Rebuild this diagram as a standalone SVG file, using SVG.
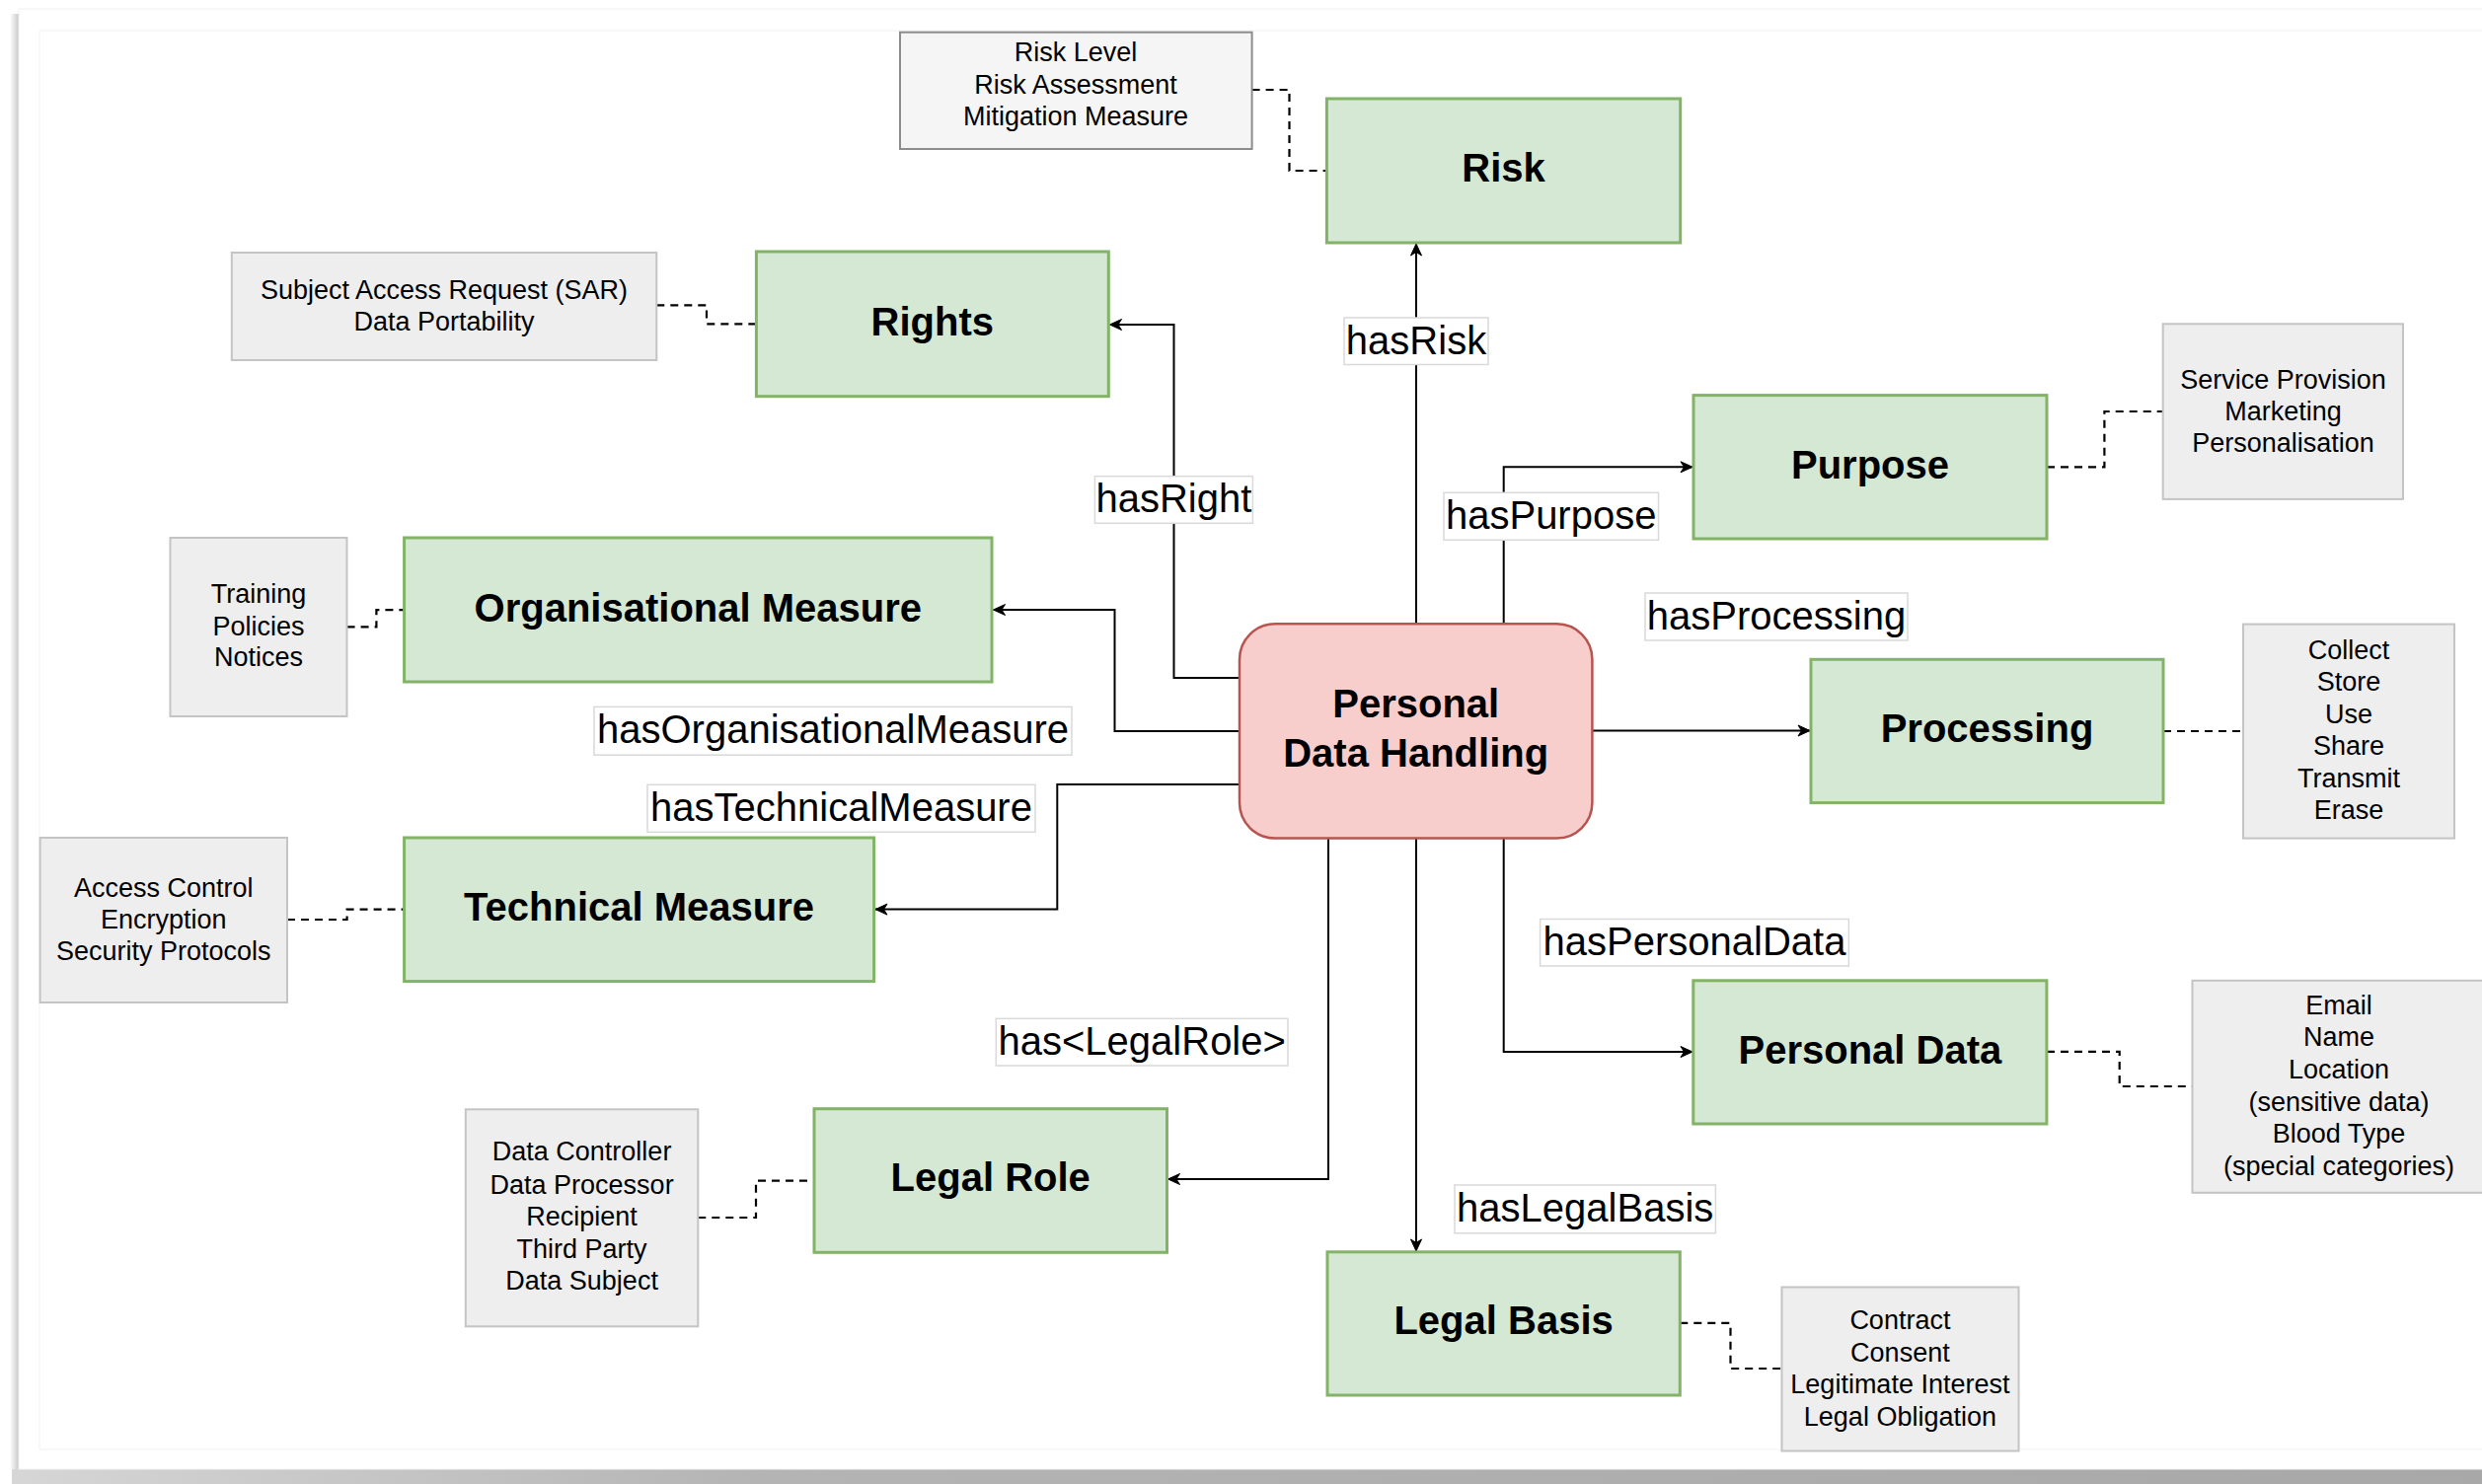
<svg xmlns="http://www.w3.org/2000/svg" width="2515" height="1504" viewBox="0 0 2515 1504">
<defs>
<style>
.node{fill:#d5e8d4;stroke:#82b366;stroke-width:3}
.core{fill:#f8cecc;stroke:#b85450;stroke-width:2.5}
.info{fill:#eeeeee;stroke:#c4c4c4;stroke-width:2}
.info2{fill:#f5f5f5;stroke:#8c8c8c;stroke-width:2}
.lbl{fill:#ffffff;stroke:#d9d9d9;stroke-width:1.5}
.nt{font-family:"Liberation Sans",Arial,Helvetica,sans-serif;font-size:40px;font-weight:bold;fill:#000;text-anchor:middle}
.it{font-family:"Liberation Sans",Arial,Helvetica,sans-serif;font-size:27px;fill:#000;text-anchor:middle}
.lt{font-family:"Liberation Sans",Arial,Helvetica,sans-serif;font-size:40px;fill:#000;text-anchor:middle}
.edge{fill:none;stroke:#000;stroke-width:2;marker-end:url(#arr)}
.dash{fill:none;stroke:#000;stroke-width:2.2;stroke-dasharray:8 6}
</style>
<marker id="arr" markerUnits="userSpaceOnUse" markerWidth="30" markerHeight="30" refX="0" refY="0" orient="auto" viewBox="-15 -15 30 30" overflow="visible">
<path d="M0,0 L-12,-5.5 L-8.5,0 L-12,5.5 Z" fill="#000" stroke="#000" stroke-width="1"/>
</marker>
<linearGradient id="bshadow" x1="0" y1="0" x2="1" y2="0">
<stop offset="0" stop-color="#d6d6d6"/>
<stop offset="0.3" stop-color="#b4b4b4"/>
<stop offset="1" stop-color="#a8a8a8"/>
</linearGradient>
<linearGradient id="lshadow" x1="0" y1="0" x2="1" y2="0">
<stop offset="0" stop-color="#ffffff"/>
<stop offset="1" stop-color="#c8c8c8"/>
</linearGradient>
</defs>

<g id="frame">
<rect x="0" y="0" width="2515" height="1504" fill="#ffffff"/>
<rect x="10" y="14" width="9" height="1476" fill="url(#lshadow)"/>
<rect x="12" y="1489" width="2503" height="15" fill="url(#bshadow)"/>
<rect x="19" y="9" width="2500" height="1480" fill="#ffffff" stroke="#f2f2f2" stroke-width="1"/>
<rect x="40" y="31" width="2490" height="1438" fill="none" stroke="#f4f4f4" stroke-width="1.2"/>
</g>

<g id="connectors">
<path class="edge" d="M1435,632 L1435,247"/>
<path class="edge" d="M1523.7,632 L1523.7,473.3 L1715,473.3"/>
<path class="edge" d="M1256,687 L1189.5,687 L1189.5,329 L1124.5,329"/>
<path class="edge" d="M1256,741 L1129.5,741 L1129.5,618 L1006.5,618"/>
<path class="edge" d="M1256,795 L1071.3,795 L1071.3,921.6 L887,921.6"/>
<path class="edge" d="M1613,740.5 L1834,740.5"/>
<path class="edge" d="M1523.7,849.6 L1523.7,1066 L1715,1066"/>
<path class="edge" d="M1435,849.6 L1435,1268"/>
<path class="edge" d="M1346,849.6 L1346,1195 L1183.5,1195"/>
<path class="dash" d="M1268.6,91 L1306.5,91 L1306.5,173 L1344,173"/>
<path class="dash" d="M665.3,309.3 L716,309.3 L716,328.3 L766,328.3"/>
<path class="dash" d="M2074,473.3 L2132.4,473.3 L2132.4,417 L2191.7,417"/>
<path class="dash" d="M351.6,635.4 L381.4,635.4 L381.4,618.2 L409.6,618.2"/>
<path class="dash" d="M2192,741 L2273,741"/>
<path class="dash" d="M291,932 L351.6,932 L351.6,921.6 L409.6,921.6"/>
<path class="dash" d="M2074,1065.8 L2147.7,1065.8 L2147.7,1101 L2221.5,1101"/>
<path class="dash" d="M707.3,1234 L766,1234 L766,1196.7 L825,1196.7"/>
<path class="dash" d="M1702.3,1340.9 L1753.5,1340.9 L1753.5,1387 L1805.5,1387"/>
<rect class="lbl" x="1362" y="322" width="146" height="47.5"/>
<text class="lt" x="1435" y="358.5">hasRisk</text>
<rect class="lbl" x="1109.4" y="482.7" width="160" height="47.6"/>
<text class="lt" x="1189.4" y="519">hasRight</text>
<rect class="lbl" x="1463" y="499.3" width="217.5" height="48"/>
<text class="lt" x="1571.7" y="535.8">hasPurpose</text>
<rect class="lbl" x="1667" y="601" width="266" height="48"/>
<text class="lt" x="1800" y="637.5">hasProcessing</text>
<rect class="lbl" x="602" y="716.4" width="484" height="48.8"/>
<text class="lt" x="844" y="753.3">hasOrganisationalMeasure</text>
<rect class="lbl" x="656" y="795.3" width="393" height="48"/>
<text class="lt" x="852.5" y="831.8">hasTechnicalMeasure</text>
<rect class="lbl" x="1560.6" y="931.5" width="312.8" height="47.5"/>
<text class="lt" x="1717" y="967.7">hasPersonalData</text>
<rect class="lbl" x="1009.3" y="1032.3" width="295.7" height="47.7"/>
<text class="lt" x="1157.2" y="1068.7">has&lt;LegalRole&gt;</text>
<rect class="lbl" x="1474" y="1201" width="264.4" height="48.8"/>
<text class="lt" x="1606.2" y="1238">hasLegalBasis</text>
</g>

<g id="pdh">
<rect class="core" x="1256" y="632.3" width="357.4" height="217.3" rx="36" ry="36"/>
<text class="nt" x="1434.7" y="727">Personal</text>
<text class="nt" x="1434.7" y="777">Data Handling</text>
</g>

<g id="risk">
<rect class="node" x="1344.4" y="100" width="358.3" height="146"/>
<text class="nt" x="1523.5" y="184">Risk</text>
</g>
<g id="rights">
<rect class="node" x="766.4" y="255" width="356.9" height="146.7"/>
<text class="nt" x="944.8" y="340">Rights</text>
</g>
<g id="purpose">
<rect class="node" x="1716" y="400.6" width="358" height="145.4"/>
<text class="nt" x="1895" y="485">Purpose</text>
</g>
<g id="orgmeasure">
<rect class="node" x="409.6" y="545" width="595.4" height="146"/>
<text class="nt" x="707.3" y="630">Organisational Measure</text>
</g>
<g id="processing">
<rect class="node" x="1835" y="668.3" width="357" height="145.3"/>
<text class="nt" x="2013.5" y="752">Processing</text>
</g>
<g id="techmeasure">
<rect class="node" x="409.6" y="849" width="476" height="145.6"/>
<text class="nt" x="647.6" y="933">Technical Measure</text>
</g>
<g id="personaldata">
<rect class="node" x="1715.8" y="993.8" width="358.1" height="145.2"/>
<text class="nt" x="1894.9" y="1078">Personal Data</text>
</g>
<g id="legalrole">
<rect class="node" x="825" y="1123.7" width="357.5" height="145.6"/>
<text class="nt" x="1003.7" y="1207">Legal Role</text>
</g>
<g id="legalbasis">
<rect class="node" x="1345" y="1268.8" width="357.3" height="145.2"/>
<text class="nt" x="1523.6" y="1352">Legal Basis</text>
</g>

<g id="risk-info">
<rect class="info2" x="912" y="32.7" width="356.6" height="118.3"/>
<text class="it" x="1090" y="62.4">Risk Level</text>
<text class="it" x="1090" y="94.7">Risk Assessment</text>
<text class="it" x="1090" y="127.4">Mitigation Measure</text>
</g>
<g id="rights-info">
<rect class="info" x="234.8" y="256" width="430.5" height="109"/>
<text class="it" x="450" y="302.7">Subject Access Request (SAR)</text>
<text class="it" x="450" y="334.7">Data Portability</text>
</g>
<g id="purpose-info">
<rect class="info" x="2191.7" y="328.3" width="243.3" height="177.6"/>
<text class="it" x="2313.5" y="394">Service Provision</text>
<text class="it" x="2313.5" y="426.4">Marketing</text>
<text class="it" x="2313.5" y="458.2">Personalisation</text>
</g>
<g id="org-info">
<rect class="info" x="172.5" y="545" width="179" height="181"/>
<text class="it" x="262" y="611.4">Training</text>
<text class="it" x="262" y="643.7">Policies</text>
<text class="it" x="262" y="675.3">Notices</text>
</g>
<g id="processing-info">
<rect class="info" x="2273" y="632.6" width="214" height="217"/>
<text class="it" x="2380" y="667.5">Collect</text>
<text class="it" x="2380" y="700.1">Store</text>
<text class="it" x="2380" y="732.6">Use</text>
<text class="it" x="2380" y="765.1">Share</text>
<text class="it" x="2380" y="797.7">Transmit</text>
<text class="it" x="2380" y="830.2">Erase</text>
</g>
<g id="tech-info">
<rect class="info" x="40.6" y="849" width="250.4" height="167"/>
<text class="it" x="165.8" y="908.9">Access Control</text>
<text class="it" x="165.8" y="941.1">Encryption</text>
<text class="it" x="165.8" y="973.4">Security Protocols</text>
</g>
<g id="personaldata-info">
<rect class="info" x="2221.5" y="993.8" width="300" height="215"/>
<text class="it" x="2370" y="1027.7">Email</text>
<text class="it" x="2370" y="1060">Name</text>
<text class="it" x="2370" y="1092.8">Location</text>
<text class="it" x="2370" y="1125.7">(sensitive data)</text>
<text class="it" x="2370" y="1158">Blood Type</text>
<text class="it" x="2370" y="1190.8">(special categories)</text>
</g>
<g id="legalrole-info">
<rect class="info" x="471.8" y="1124.3" width="235.5" height="220"/>
<text class="it" x="589.6" y="1176.4">Data Controller</text>
<text class="it" x="589.6" y="1209.7">Data Processor</text>
<text class="it" x="589.6" y="1242">Recipient</text>
<text class="it" x="589.6" y="1274.7">Third Party</text>
<text class="it" x="589.6" y="1307.4">Data Subject</text>
</g>
<g id="legalbasis-info">
<rect class="info" x="1805.5" y="1304.5" width="240" height="166"/>
<text class="it" x="1925.4" y="1346.5">Contract</text>
<text class="it" x="1925.4" y="1379.9">Consent</text>
<text class="it" x="1925.4" y="1412.2">Legitimate Interest</text>
<text class="it" x="1925.4" y="1445.1">Legal Obligation</text>
</g>
</svg>
